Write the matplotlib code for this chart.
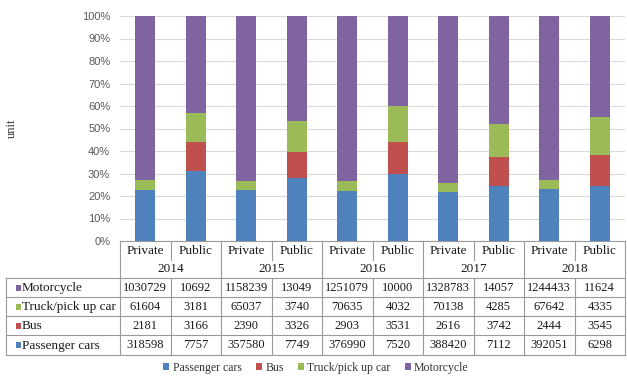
import matplotlib
matplotlib.use("Agg")
import matplotlib.pyplot as plt
from matplotlib.patches import Patch, Rectangle
import numpy as np

# Vehicle registrations by ownership type and year
years = ["2014", "2015", "2016", "2017", "2018"]
owners = ["Private", "Public"]
series = ["Passenger cars", "Bus", "Truck/pick up car", "Motorcycle"]
colors = ["#4F81BD", "#C0504D", "#9BBB59", "#8064A2"]

passenger_cars = [318598, 7757, 357580, 7749, 376990, 7520, 388420, 7112, 392051, 6298]
bus = [2181, 3166, 2390, 3326, 2903, 3531, 2616, 3742, 2444, 3545]
truck = [61604, 3181, 65037, 3740, 70635, 4032, 70138, 4285, 67642, 4335]
motorcycle = [1030729, 10692, 1158239, 13049, 1251079, 10000, 1328783, 14057, 1244433, 11624]

values = np.array([passenger_cars, bus, truck, motorcycle], dtype=float)
shares = values / values.sum(axis=0) * 100

W, H = 627, 378
fig = plt.figure(figsize=(W / 100, H / 100), dpi=100)

def fx(x):
    return x / W

def fy(y):
    return 1 - y / H

# chart area
left, right, top, bottom = 120, 625, 16, 241
ax = fig.add_axes([fx(left), fy(bottom), fx(right - left), (bottom - top) / H])
n = values.shape[1]
x = np.arange(n)
base = np.zeros(n)
for s, c, row in zip(series, colors, shares):
    ax.bar(x, row, bottom=base, width=0.4, color=c, zorder=3)
    base += row
ax.set_xlim(-0.5, n - 0.5)
ax.set_ylim(0, 100)
ax.set_yticks(np.arange(0, 101, 10))
ax.set_yticklabels([f"{v}%" for v in range(0, 101, 10)],
                   fontfamily="Liberation Sans", fontsize=8, color="#595959")
ax.set_xticks([])
ax.grid(axis="y", color="#D9D9D9", lw=0.8, zorder=0)
for sp in ax.spines.values():
    sp.set_visible(False)
ax.tick_params(axis="y", length=0, pad=7)

fig.text(fx(12), fy(128), "unit", rotation=90, ha="center", va="center",
         fontfamily="Liberation Serif", fontsize=9, color="#333333")

# data table drawn in pixel coordinates
tab = fig.add_axes([0, 0, 1, 1])
tab.set_xlim(0, W)
tab.set_ylim(H, 0)
tab.axis("off")

lc = "#999999"
lw = 0.8
tl = 6
colw = (right - left) / n
h0, h1, h2 = 241, 260, 278
row_edges = [278, 297, 316, 335, 355]
font = dict(fontfamily="Liberation Serif", fontsize=9, color="#1a1a1a")
label_font = dict(font, fontsize=9.5)

# header
tab.plot([left, right], [h0, h0], color=lc, lw=lw)
tab.plot([left, left], [h0, row_edges[-1]], color=lc, lw=lw)
tab.plot([right, right], [h0, row_edges[-1]], color=lc, lw=lw)
for i in range(1, n):
    xb = left + i * colw
    if i % 2 == 0:
        tab.plot([xb, xb], [h0, row_edges[-1]], color=lc, lw=lw)
    else:
        tab.plot([xb, xb], [h0, h1], color=lc, lw=lw)
        tab.plot([xb, xb], [h2, row_edges[-1]], color=lc, lw=lw)
for i in range(n):
    cx = left + (i + 0.5) * colw
    tab.text(cx, (h0 + h1) / 2 + 0.5, owners[i % 2], ha="center", va="center", **label_font)
for j, yr in enumerate(years):
    cx = left + (2 * j + 1) * colw
    tab.text(cx, (h1 + h2) / 2 + 0.5, yr, ha="center", va="center", **label_font)

# body rows, top row is the top of the stack
for ye in row_edges:
    tab.plot([tl, right], [ye, ye], color=lc, lw=lw)
tab.plot([tl, tl], [row_edges[0], row_edges[-1]], color=lc, lw=lw)
order = [3, 2, 1, 0]
for r, k in enumerate(order):
    y0, y1 = row_edges[r], row_edges[r + 1]
    cy = (y0 + y1) / 2
    tab.add_patch(Rectangle((16, cy - 3), 5, 6, color=colors[k], lw=0))
    tab.text(22, cy + 0.5, series[k], ha="left", va="center", **label_font)
    for i in range(n):
        cx = left + (i + 0.5) * colw
        tab.text(cx, cy + 0.5, f"{int(values[k, i])}", ha="center", va="center", **font)

# legend
handles = [Patch(facecolor=c, edgecolor="none", label=s) for s, c in zip(series, colors)]
fig.legend(handles=handles, loc="center", bbox_to_anchor=(fx(316), fy(368)), ncol=4,
           frameon=False, handlelength=0.5, handleheight=0.5, handletextpad=0.3,
           columnspacing=1.2, prop={"family": "Liberation Serif", "size": 8.5},
           labelcolor="#333333")

fig.savefig("out.png", dpi=100)
